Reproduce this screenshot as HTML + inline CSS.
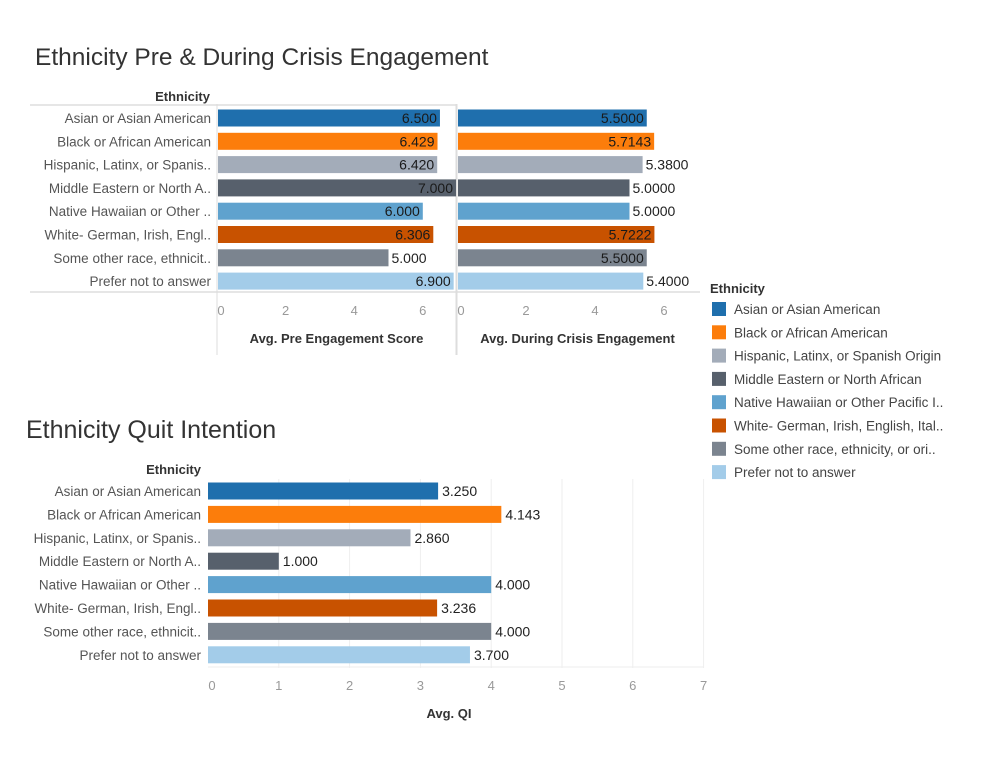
<!DOCTYPE html>
<html><head><meta charset="utf-8"><style>
body{margin:0;background:#fff;width:989px;height:757px;overflow:hidden;font-family:"Liberation Sans","DejaVu Sans",sans-serif}
</style></head><body>
<svg id="chart" width="989" height="757" xmlns="http://www.w3.org/2000/svg" font-family="Liberation Sans, DejaVu Sans, sans-serif">
<text x="35" y="65" font-size="24.5" fill="#333">Ethnicity Pre &amp; During Crisis Engagement</text>
<text x="26" y="438" font-size="25" fill="#333">Ethnicity Quit Intention</text>
<g id="topg"></g><g id="botg"></g><g id="legg"></g>
</svg>
<script>
const categories=["Asian or Asian American","Black or African American","Hispanic, Latinx, or Spanish Origin","Middle Eastern or North African","Native Hawaiian or Other Pacific Islander","White- German, Irish, English, Italian","Some other race, ethnicity, or origin","Prefer not to answer"];
const shortLabels=["Asian or Asian American","Black or African American","Hispanic, Latinx, or Spanis..","Middle Eastern or North A..","Native Hawaiian or Other ..","White- German, Irish, Engl..","Some other race, ethnicit..","Prefer not to answer"];
const legendLabels=["Asian or Asian American","Black or African American","Hispanic, Latinx, or Spanish Origin","Middle Eastern or North African","Native Hawaiian or Other Pacific I..","White- German, Irish, English, Ital..","Some other race, ethnicity, or ori..","Prefer not to answer"];
const preValues=[6.5,6.429,6.42,7.0,6.0,6.306,5.0,6.9];
const duringValues=[5.5,5.7143,5.38,5.0,5.0,5.7222,5.5,5.4];
const qiValues=[3.25,4.143,2.86,1.0,4.0,3.236,4.0,3.7];
const topTicks=[0,2,4,6];
const qiTicks=[0,1,2,3,4,5,6,7];
const colors=["#1f6fad","#fc7d0b","#a3acb9","#57606c","#5fa2ce","#c85200","#7b848f","#a3cce9"];
const NS="http://www.w3.org/2000/svg";
function mk(p,t,a,txt){const e=document.createElementNS(NS,t);for(const k in a)e.setAttribute(k,a[k]);if(txt!==undefined)e.textContent=txt;p.appendChild(e);return e;}
const gTop=document.getElementById('topg'),gBot=document.getElementById('botg'),gLeg=document.getElementById('legg');
const rowY=i=>118+i*23.3;
let l=mk(gTop,'line',{x1:30,x2:456,y1:105,y2:105,stroke:'#ccc'});

l=mk(gTop,'line',{x1:30,x2:700,y1:292,y2:292,stroke:'#ccc'});

l=mk(gTop,'text',{x:210,y:101,'font-size':13,'font-weight':'bold','text-anchor':'end',fill:'#333'},'Ethnicity');

categories.forEach((c,i)=>{const t=mk(gTop,'text',{x:211,y:rowY(i)+5,'font-size':13.5,'text-anchor':'end',fill:'#555'},shortLabels[i]);
});
function pane(x0,x1,lim,border,unit,vals,dec,title,name){
  const xs=border?[x0,x1]:[x0];
  xs.forEach(x=>{const v=mk(gTop,'line',{x1:x,x2:x,y1:104,y2:355,stroke:'#ddd'});});
  const sx=v=>x0+v*unit;
  topTicks.forEach(t=>{const tx=mk(gTop,'text',{x:sx(t)+(t===0?4:0),y:315,'font-size':13,'text-anchor':'middle',fill:'#999'},String(t));
    });
  const tt=mk(gTop,'text',{x:(x0+x1)/2,y:343,'font-size':13,'font-weight':'bold','text-anchor':'middle',fill:'#333'},title);
  
  vals.forEach((v,i)=>{const e=Math.min(sx(v),x1);
    const r=mk(gTop,'rect',{x:x0+1,y:rowY(i)-8.5,width:e-x0-1,height:17,fill:colors[i]});
    
    const s=v.toFixed(dec),w=s.length*7.8+4;const out=e+w<=lim;
    const t=mk(gTop,'text',{x:out?e+3:e-3,y:rowY(i)+5,'font-size':14,'text-anchor':out?'start':'end',fill:out?'#222':'#1a1a1a'},s);
    });
}
pane(217,456,456,true,34.3,preValues,3,'Avg. Pre Engagement Score','pre');
pane(457,698,696,false,34.5,duringValues,4,'Avg. During Crisis Engagement','during');
const bx0=208,bu=70.8,by=i=>491+i*23.4,bsx=v=>bx0+v*bu;
qiTicks.forEach(t=>{if(t>0){const g=mk(gBot,'line',{x1:bsx(t),x2:bsx(t),y1:479,y2:668,stroke:'#eee'});}
  const tx=mk(gBot,'text',{x:bsx(t)+(t===0?4:0),y:690,'font-size':13,'text-anchor':'middle',fill:'#999'},String(t));
  });
l=mk(gBot,'line',{x1:bx0,x2:704,y1:667,y2:667,stroke:'#eee'});
l=mk(gBot,'text',{x:201,y:474,'font-size':13,'font-weight':'bold','text-anchor':'end',fill:'#333'},'Ethnicity');

l=mk(gBot,'text',{x:449,y:718,'font-size':13,'font-weight':'bold','text-anchor':'middle',fill:'#333'},'Avg. QI');

qiValues.forEach((v,i)=>{
  const t=mk(gBot,'text',{x:201,y:by(i)+5,'font-size':13.5,'text-anchor':'end',fill:'#555'},shortLabels[i]);
  
  const r=mk(gBot,'rect',{x:bx0,y:by(i)-8.5,width:bsx(v)-bx0,height:17,fill:colors[i]});
  
  const lb=mk(gBot,'text',{x:bsx(v)+4,y:by(i)+5,'font-size':14,fill:'#222'},v.toFixed(3));
  });
l=mk(gLeg,'text',{x:710,y:293,'font-size':13,'font-weight':'bold',fill:'#333'},'Ethnicity');

legendLabels.forEach((c,i)=>{const y=309+i*23.3;
  const r=mk(gLeg,'rect',{x:712,y:y-7,width:14,height:14,fill:colors[i]});
  
  const t=mk(gLeg,'text',{x:734,y:y+5,'font-size':13.5,fill:'#444'},c);
  });
</script>
</body></html>
